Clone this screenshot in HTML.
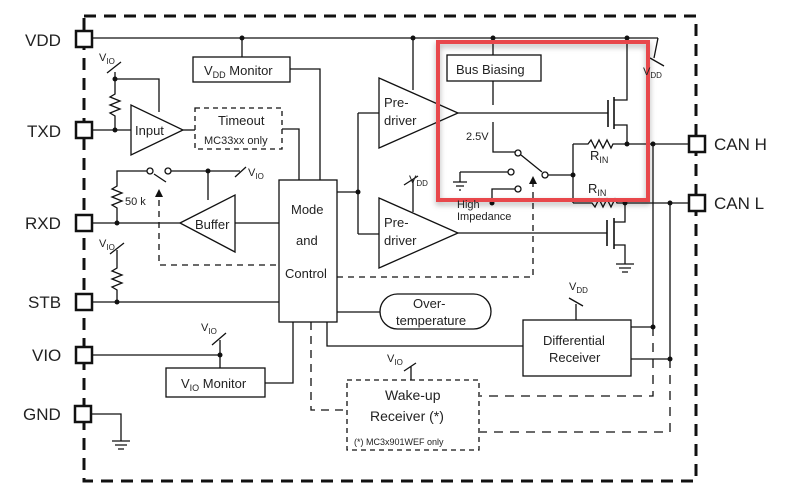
<!DOCTYPE html>
<html><head><meta charset="utf-8"><style>
body{margin:0;background:#fff;}
svg{display:block;font-family:"Liberation Sans",sans-serif;}
</style></head><body>
<svg width="800" height="497" viewBox="0 0 800 497" xmlns="http://www.w3.org/2000/svg">
<defs>
<filter id="sh" x="-10%" y="-10%" width="120%" height="130%"><feDropShadow dx="0" dy="3" stdDeviation="3" flood-color="#000" flood-opacity="0.3"/></filter>
</defs>
<rect x="84" y="16" width="612" height="465" fill="none" stroke="#111" stroke-width="3" stroke-dasharray="12,8"/>
<g stroke="#111" stroke-width="1.3" fill="none">
<rect x="76" y="31" width="16" height="16" stroke-width="2.5" fill="#fff"/>
<rect x="76" y="122" width="16" height="16" stroke-width="2.5" fill="#fff"/>
<rect x="76" y="215" width="16" height="16" stroke-width="2.5" fill="#fff"/>
<rect x="76" y="294" width="16" height="16" stroke-width="2.5" fill="#fff"/>
<rect x="76" y="347" width="16" height="16" stroke-width="2.5" fill="#fff"/>
<rect x="75" y="406" width="16" height="16" stroke-width="2.5" fill="#fff"/>
<rect x="689" y="136" width="16" height="16" stroke-width="2.5" fill="#fff"/>
<rect x="689" y="195" width="16" height="16" stroke-width="2.5" fill="#fff"/>
<path d="M92 38H658M242 38V57M413 38V90M493 38V55M627 38V100H614M658 38L654 58"/>
<path d="M650 58L664 66M107 73L121 62"/>
<rect x="193" y="57" width="97" height="25"/>
<path d="M290 69H320V180"/>
<rect x="279" y="180" width="58" height="142"/>
<path d="M92 130H131M115 72V94l-5 3 10 4-10 4 10 4-10 4 5 3V130M115 79H159V112"/>
<path d="M131 105V155L183 130Z"/>
<path d="M183 130H195"/>
<rect x="195" y="108" width="87" height="41" stroke-dasharray="5,4"/>
<path d="M282 129H299V180"/>
<path d="M92 223H180M117 223V208l-5-3 10-4-10-4 10-4-10-4 5-3V171H147M154 174L166 182M171 171H240M235 177L246 167M208 171V200"/>
<circle cx="150" cy="171" r="3" fill="#fff"/><circle cx="168" cy="171" r="3" fill="#fff"/>
<path d="M180 223L235 195V252Z"/>
<path d="M235 223H279"/>
<path d="M159 200V265H279M337 277H533V184" stroke-dasharray="6,5"/>
<path d="M92 302H279M117 302V290l-5-3 10-4-10-4 10-4-10-4 5-3V250M110 254L124 243"/>
<path d="M92 355H220M220 340V368M212 345L226 333"/>
<rect x="166" y="368" width="99" height="29"/>
<path d="M265 383H293V322"/>
<path d="M92 414H121V441M112 441H130M115 445H127M118 449H124"/>
<path d="M311 322V410H346" stroke-dasharray="8,6"/>
<path d="M327 322V346H523M337 312H380"/>
<rect x="380" y="294" width="111" height="35" rx="17.5"/>
<path d="M337 192H358M358 113V234M358 113H379M358 234H379"/>
<path d="M379 78V148L458 113Z"/>
<path d="M379 198V268L458 233Z"/>
<path d="M413 180V212M404 185L418 176"/>
<path d="M458 113H608M458 233H607"/>
<path d="M608 100V127M614 97V129" stroke-width="1.6"/>
<path d="M614 125H627V144"/>
<path d="M607 220V246M614 218V249" stroke-width="1.6"/>
<path d="M614 222H625V203M614 245H625V264M616 264H634M619 268H631M622 272H628"/>
<path d="M573 144H588l3-4 4 8 4-8 4 8 4-8 4 8 2-4H689M573 144V203M573 203H592l3 4 4-8 4 8 4-8 4 8 4-8 2 4H689"/>
<path d="M653 144V327M670 203V359"/>
<path d="M653 327V396H480M670 359V432H480" stroke-dasharray="9,7"/>
<rect x="447" y="55" width="94" height="26"/>
<path d="M493 81V105M493 122V152H515M521 155L542 172M548 175H573M460 172H508M460 172V182M453 182H467M456 186H464M459 190H461M515 189H492V203"/>
<circle cx="518" cy="153" r="3" fill="#fff"/><circle cx="545" cy="175" r="3" fill="#fff"/><circle cx="511" cy="172" r="3" fill="#fff"/><circle cx="518" cy="189" r="3" fill="#fff"/>
<rect x="523" y="320" width="108" height="56"/>
<path d="M576 304V320M569 298L583 306M631 327H653M631 359H670"/>
<rect x="347" y="380" width="132" height="70" stroke-dasharray="5,4"/>
<path d="M411 366V380M404 371L416 363"/>
</g>
<g fill="#111">
<circle cx="242" cy="38" r="2.5"/><circle cx="413" cy="38" r="2.5"/><circle cx="493" cy="38" r="2.5"/><circle cx="627" cy="38" r="2.5"/>
<circle cx="115" cy="130" r="2.5"/><circle cx="115" cy="79" r="2.5"/><circle cx="208" cy="171" r="2.5"/><circle cx="117" cy="223" r="2.5"/>
<circle cx="117" cy="302" r="2.5"/><circle cx="220" cy="355" r="2.5"/><circle cx="358" cy="192" r="2.5"/>
<circle cx="627" cy="144" r="2.5"/><circle cx="653" cy="144" r="2.5"/><circle cx="573" cy="175" r="2.5"/><circle cx="625" cy="203" r="2.5"/><circle cx="670" cy="203" r="2.5"/>
<circle cx="492" cy="203" r="2.5"/><circle cx="653" cy="327" r="2.5"/><circle cx="670" cy="359" r="2.5"/>
<path d="M159 189L155 197H163Z"/><path d="M533 176L529 184H537Z"/>
</g>
<rect x="438" y="42" width="210" height="158" fill="none" stroke="#e8474c" stroke-width="4" filter="url(#sh)"/>
<g fill="#222" font-size="17">
<text x="25" y="46">VDD</text><text x="27" y="137">TXD</text><text x="25" y="229">RXD</text>
<text x="28" y="308">STB</text><text x="32" y="361">VIO</text><text x="23" y="420">GND</text>
<text x="714" y="150">CAN H</text><text x="714" y="209">CAN L</text>
</g>
<g fill="#222" font-size="13">
<text x="204" y="75">V<tspan font-size="9" dy="3">DD</tspan><tspan dy="-3"> Monitor</tspan></text>
<text x="135" y="135">Input</text>
<text x="218" y="125">Timeout</text>
<text x="291" y="214">Mode</text><text x="296" y="245">and</text><text x="285" y="278">Control</text>
<text x="195" y="229">Buffer</text>
<text x="181" y="388">V<tspan font-size="9" dy="3">IO</tspan><tspan dy="-3"> Monitor</tspan></text>
<text x="384" y="107">Pre-</text><text x="384" y="125">driver</text>
<text x="384" y="227">Pre-</text><text x="384" y="245">driver</text>
<text x="456" y="74">Bus Biasing</text>
<text x="413" y="308">Over-</text><text x="396" y="325">temperature</text>
<text x="543" y="345">Differential</text><text x="549" y="362">Receiver</text>
<text x="385" y="400" font-size="14">Wake-up</text><text x="370" y="421" font-size="14">Receiver (*)</text>
<text x="590" y="160">R<tspan font-size="9" dy="3">IN</tspan></text>
<text x="588" y="193">R<tspan font-size="9" dy="3">IN</tspan></text>
</g>
<g fill="#222" font-size="11">
<text x="204" y="144">MC33xx only</text>
<text x="125" y="205">50 k</text>
<text x="466" y="140">2.5V</text>
<text x="457" y="208">High</text><text x="457" y="220">Impedance</text>
<text x="354" y="445" font-size="9">(*) MC3x901WEF only</text>
<text x="99" y="61">V<tspan font-size="8" dy="3">IO</tspan></text>
<text x="248" y="176">V<tspan font-size="8" dy="3">IO</tspan></text>
<text x="99" y="247">V<tspan font-size="8" dy="3">IO</tspan></text>
<text x="201" y="331">V<tspan font-size="8" dy="3">IO</tspan></text>
<text x="387" y="362">V<tspan font-size="8" dy="3">IO</tspan></text>
<text x="409" y="183">V<tspan font-size="8" dy="3">DD</tspan></text>
<text x="643" y="75">V<tspan font-size="8" dy="3">DD</tspan></text>
<text x="569" y="290">V<tspan font-size="8" dy="3">DD</tspan></text>
</g>
</svg>
</body></html>
